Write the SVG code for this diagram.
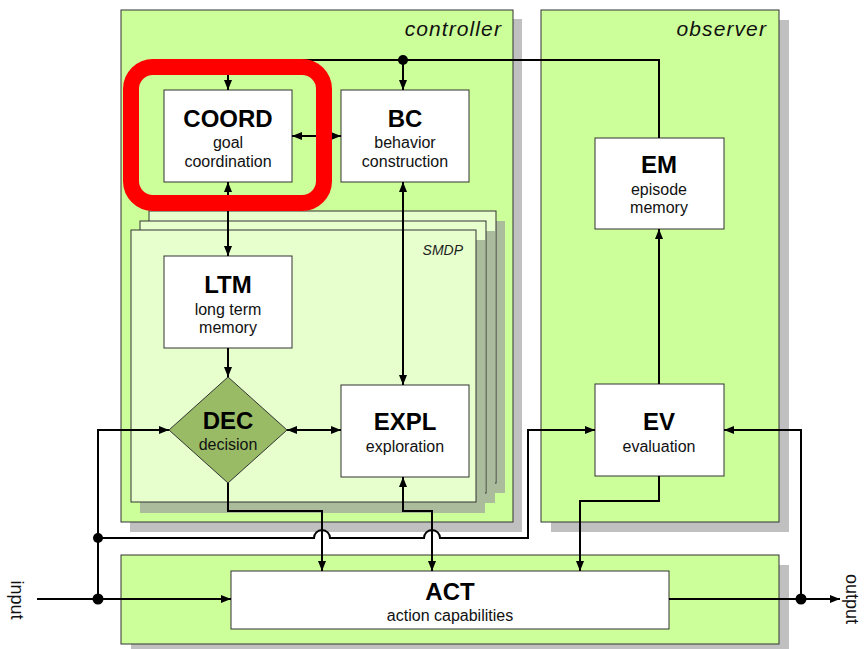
<svg xmlns="http://www.w3.org/2000/svg" width="864" height="649" viewBox="0 0 864 649">
  <style>
    .panel { fill: #ccff99; stroke: #333333; stroke-width: 1; }
    .pshadow { fill: #c0c0c0; }
    .frame { fill: #e6ffcc; stroke: #333333; stroke-width: 1; }
    .fshadow { fill: #abbc9c; }
    .box { fill: #ffffff; stroke: #333333; stroke-width: 1; }
    .dec { fill: #99bb66; stroke: #333333; stroke-width: 1; }
    .title { font-family: "Liberation Sans", Arial, sans-serif; font-weight: bold; font-size: 24px; text-anchor: middle; fill: #000000; }
    .sub { font-family: "Liberation Sans", Arial, sans-serif; font-size: 16px; text-anchor: middle; fill: #111111; }
    .plabel { font-family: "Liberation Sans", Arial, sans-serif; font-style: italic; font-size: 21px; letter-spacing: 1.1px; text-anchor: end; fill: #111111; }
    .slabel { font-family: "Liberation Sans", Arial, sans-serif; font-style: italic; font-size: 14px; text-anchor: end; fill: #222222; }
    .io { font-family: "Liberation Sans", Arial, sans-serif; font-size: 18px; text-anchor: middle; fill: #111111; }
    .wire { fill: none; stroke: #000000; stroke-width: 2; }
    .arr { marker-end: url(#ah); }
    .arr2 { marker-start: url(#ah); marker-end: url(#ah); }
    .dot { fill: #000000; }
  </style>
  <defs>
    <marker id="ah" markerUnits="userSpaceOnUse" markerWidth="10" markerHeight="8" refX="10" refY="4" orient="auto-start-reverse">
      <path d="M0,0 L10,4 L0,8 z" fill="#000000"/>
    </marker>
  </defs>

  <rect width="864" height="649" fill="#ffffff"/>

  <!-- panels with drop shadows -->
  <g id="controller">
    <rect class="pshadow" x="130" y="19" width="392" height="513"/>
    <rect class="panel" x="121" y="10" width="392" height="512"/>
    <text class="plabel" x="502" y="36">controller</text>
  </g>
  <g id="observer">
    <rect class="pshadow" x="551" y="20" width="238" height="512"/>
    <rect class="panel" x="541" y="10" width="238" height="512"/>
    <text class="plabel" x="767" y="36">observer</text>
  </g>
  <g id="act-panel">
    <rect class="pshadow" x="131" y="565" width="658" height="89"/>
    <rect class="panel" x="121" y="555" width="658" height="89"/>
  </g>

  <!-- stacked SMDP frames -->
  <g id="smdp">
    <rect class="fshadow" x="158" y="221" width="347" height="272"/>
    <rect class="frame" x="149" y="211" width="347" height="272"/>
    <rect class="fshadow" x="149" y="231" width="346" height="272"/>
    <rect class="frame" x="140" y="221" width="346" height="272"/>
    <rect class="fshadow" x="140" y="240" width="345" height="273"/>
    <rect class="frame" x="131" y="230" width="345" height="272"/>
    <text class="slabel" x="463" y="255">SMDP</text>
  </g>

  <!-- nodes -->
  <g id="coord">
    <rect class="box" x="164" y="90" width="128" height="92"/>
    <text class="title" x="228" y="127">COORD</text>
    <text class="sub" x="228" y="148">goal</text>
    <text class="sub" x="228" y="167">coordination</text>
  </g>
  <g id="bc">
    <rect class="box" x="341" y="90" width="128" height="92"/>
    <text class="title" x="405" y="127">BC</text>
    <text class="sub" x="405" y="148">behavior</text>
    <text class="sub" x="405" y="167">construction</text>
  </g>
  <g id="ltm">
    <rect class="box" x="164" y="256" width="128" height="92"/>
    <text class="title" x="228" y="293">LTM</text>
    <text class="sub" x="228" y="315">long term</text>
    <text class="sub" x="228" y="333">memory</text>
  </g>
  <g id="dec">
    <polygon class="dec" points="228,377 287,430 228,483 169,430"/>
    <text class="title" x="228" y="429">DEC</text>
    <text class="sub" x="228" y="450">decision</text>
  </g>
  <g id="expl">
    <rect class="box" x="341" y="385" width="128" height="92"/>
    <text class="title" x="405" y="430">EXPL</text>
    <text class="sub" x="405" y="452">exploration</text>
  </g>
  <g id="em">
    <rect class="box" x="595" y="138" width="129" height="91"/>
    <text class="title" x="659" y="173">EM</text>
    <text class="sub" x="659" y="195">episode</text>
    <text class="sub" x="659" y="213">memory</text>
  </g>
  <g id="ev">
    <rect class="box" x="595" y="384" width="129" height="92"/>
    <text class="title" x="659" y="430">EV</text>
    <text class="sub" x="659" y="452">evaluation</text>
  </g>
  <g id="act">
    <rect class="box" x="231" y="571" width="438" height="58"/>
    <text class="title" x="450" y="600">ACT</text>
    <text class="sub" x="450" y="621">action capabilities</text>
  </g>

  <!-- connectors -->
  <g id="connectors">
    <path class="wire arr" d="M659,138 V60 H228 V90"/>
    <path class="wire arr" d="M403,60 V90"/>
    <path class="wire arr2" d="M292,136 H341"/>
    <path class="wire arr2" d="M228,182 V256"/>
    <path class="wire arr2" d="M403,182 V385"/>
    <path class="wire arr" d="M228,348 V377"/>
    <path class="wire arr2" d="M287,430 H341"/>
    <path class="wire arr" d="M37,599 H231"/>
    <path class="wire arr" d="M98,599 V430 H169"/>
    <path class="wire arr" d="M98,538 H314 A8,8 0 0 1 330,538 H424 A8,8 0 0 1 440,538 H528 V430 H595"/>
    <path class="wire arr" d="M228,483 V511 H322 V571"/>
    <path class="wire arr2" d="M403,477 V511 H432 V571"/>
    <path class="wire arr" d="M659,476 V501 H580 V571"/>
    <path class="wire arr" d="M659,384 V229"/>
    <path class="wire arr" d="M669,599 H840"/>
    <path class="wire arr" d="M801,599 V430 H724"/>
    <circle class="dot" cx="403" cy="60" r="5"/>
    <circle class="dot" cx="98" cy="599" r="5.5"/>
    <circle class="dot" cx="98" cy="538" r="5"/>
    <circle class="dot" cx="801" cy="599" r="5.5"/>
  </g>

  <!-- port labels -->
  <text class="io" transform="translate(11,600) rotate(90)">input</text>
  <text class="io" transform="translate(846,599) rotate(90)">output</text>

  <!-- highlight around the coordination module -->
  <rect id="highlight" x="131" y="67" width="193" height="136" rx="22" ry="22" fill="none" stroke="#ff0000" stroke-width="16"/>
</svg>
